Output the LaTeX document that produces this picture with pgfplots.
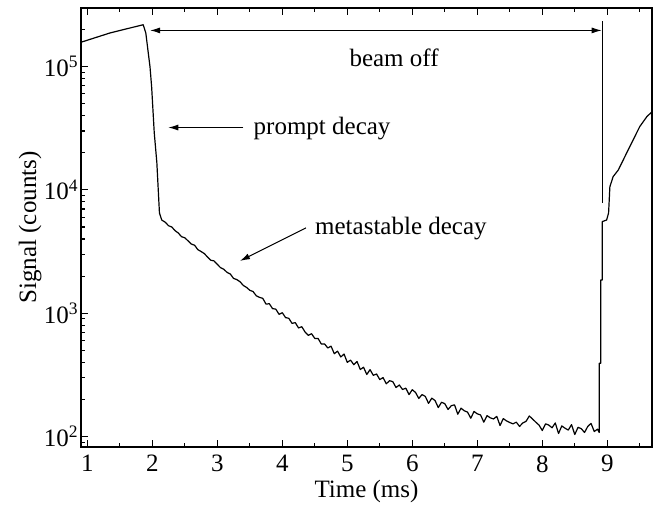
\documentclass[border=0pt]{standalone}
\usepackage{pgfplots}
\pgfplotsset{compat=1.18}
\usepackage{pgfplotstable}
\usepackage{fontspec}
\setmainfont{Liberation Serif}
\usetikzlibrary{arrows.meta}

\pgfplotstableread{
x y
0.90 157000
1.35 187000
1.86 218000
1.90 187000
1.965 99000
1.99 68000
2.03 29000
2.07 16600
2.11 6500
2.145 5700
2.20 5460
2.25 5120
2.30 5000
2.35 4670
2.40 4470
2.45 4170
2.50 4090
2.55 3860
2.60 3640
2.65 3560
2.70 3280
2.75 3165
2.80 3045
2.85 2855
2.90 2690
2.95 2655
3.00 2490
3.05 2340
3.10 2270
3.15 2145
3.20 2080
3.25 1915
3.30 1875
3.35 1800
3.40 1680
3.45 1620
3.50 1535
3.55 1500
3.60 1385
3.65 1345
3.70 1320
3.75 1185
3.80 1195
3.85 1090
3.90 1080
3.95 980
4.00 1010
4.05 922
4.10 910
4.15 828
4.20 839
4.25 760
4.30 778
4.35 705
4.40 662
4.45 683
4.50 625
4.55 625
4.60 564
4.65 564
4.70 523
4.75 541
4.80 470
4.85 493
4.90 442
4.95 467
5.00 400
5.05 417
5.10 383
5.15 406
5.20 350
5.25 365
5.30 319
5.35 349
5.40 314
5.45 322
5.50 290
5.55 301
5.60 268
5.65 284
5.70 279
5.75 250
5.80 262
5.85 241
5.90 247
5.95 219
6.00 240
6.05 228
6.10 204
6.15 219
6.20 212
6.25 186
6.30 205
6.35 196
6.40 172
6.45 190
6.50 185
6.55 166
6.60 178
6.65 181
6.70 152
6.75 170
6.80 162
6.85 158
6.90 141
6.95 160
7.00 153
7.05 150
7.10 131
7.15 148
7.20 142
7.25 139
7.30 146
7.35 123
7.40 140
7.45 134
7.50 130
7.55 127
7.60 131
7.65 121
7.70 129
7.75 133
7.80 147
7.85 139
7.90 131
7.95 124
8.00 112
8.05 127
8.10 124
8.15 118
8.20 129
8.25 106
8.30 122
8.35 117
8.40 113
8.45 125
8.50 104
8.55 119
8.60 116
8.65 108
8.70 121
8.75 128
8.80 110
8.85 115
8.877 108
8.877 393
8.90 393
8.90 1860
8.923 1860
8.923 5530
8.99 5700
9.02 6500
9.04 10600
9.09 12800
9.17 14500
9.30 20000
9.50 32600
9.61 39300
9.69 43000
}\signal

\begin{document}
\begin{tikzpicture}[font=\fontsize{12.5bp}{15bp}\selectfont]
\begin{axis}[
  at={(0,0)}, anchor=south west,
  scale only axis, width=285.5bp, height=219.5bp,
  ymode=log,
  xmin=0.903, xmax=9.688, ymin=82.4, ymax=2.98e5,
  xtick={1,2,3,4,5,6,7,8,9},
  xticklabels={1,2,3,4,5,6,7,8,9},
  minor xtick={1.5,2.5,3.5,4.5,5.5,6.5,7.5,8.5,9.5},
  ytick={100,1000,10000,100000},
  yticklabels={10\textsuperscript{2},10\textsuperscript{3},10\textsuperscript{4},10\textsuperscript{5}},
  minor ytick={90,200,300,400,500,600,700,800,900,2000,3000,4000,5000,6000,7000,8000,9000,20000,30000,40000,50000,60000,70000,80000,90000,200000},
  ytick pos=left,
  xtick pos=both,
  tick align=inside,
  major tick length=3.5bp, minor tick length=2bp,
  tick style={line width=0.6bp, black},
  axis line style={line width=1bp},
  yticklabel style={inner sep=0pt, xshift=-1bp},
  xticklabel style={inner sep=0pt, yshift=-4bp},
  xlabel={Time (ms)}, ylabel={Signal (counts)},
  xlabel style={at={(axis description cs:0.5,0)}, anchor=base, yshift=-25.5bp},
  ylabel style={at={(axis description cs:-0.0788,0.5)}, anchor=base, rotate=0},
]
\addplot[black, line width=0.6bp, line join=round] table[x=x, y=y] {\signal};
\draw[{Latex[length=5bp,width=3bp]}-{Latex[length=5bp,width=3bp]}, line width=0.5bp] (axis cs:1.966,1.96e5) -- (axis cs:8.914,1.96e5);
\draw[line width=0.5bp] (axis cs:8.929,2.32e5) -- (axis cs:8.929,7850);
\node[anchor=base, inner sep=0pt] at (axis cs:5.72,1e5) {beam off};
\draw[-{Latex[length=5bp,width=3bp]}, line width=0.5bp] (axis cs:3.40,3.2e4) -- (axis cs:2.246,3.2e4);
\node[anchor=base west, inner sep=0pt] at (axis cs:3.554,2.79e4) {prompt decay};
\draw[-{Latex[length=5bp,width=3bp]}, line width=0.5bp] (axis cs:4.365,4920) -- (axis cs:3.349,2655);
\node[anchor=base west, inner sep=0pt] at (axis cs:4.50,4315) {metastable decay};
\end{axis}
\pgfresetboundingbox
\path (-40.5bp,-31.5bp) rectangle (287.5bp,223.5bp);
\end{tikzpicture}
\end{document}
